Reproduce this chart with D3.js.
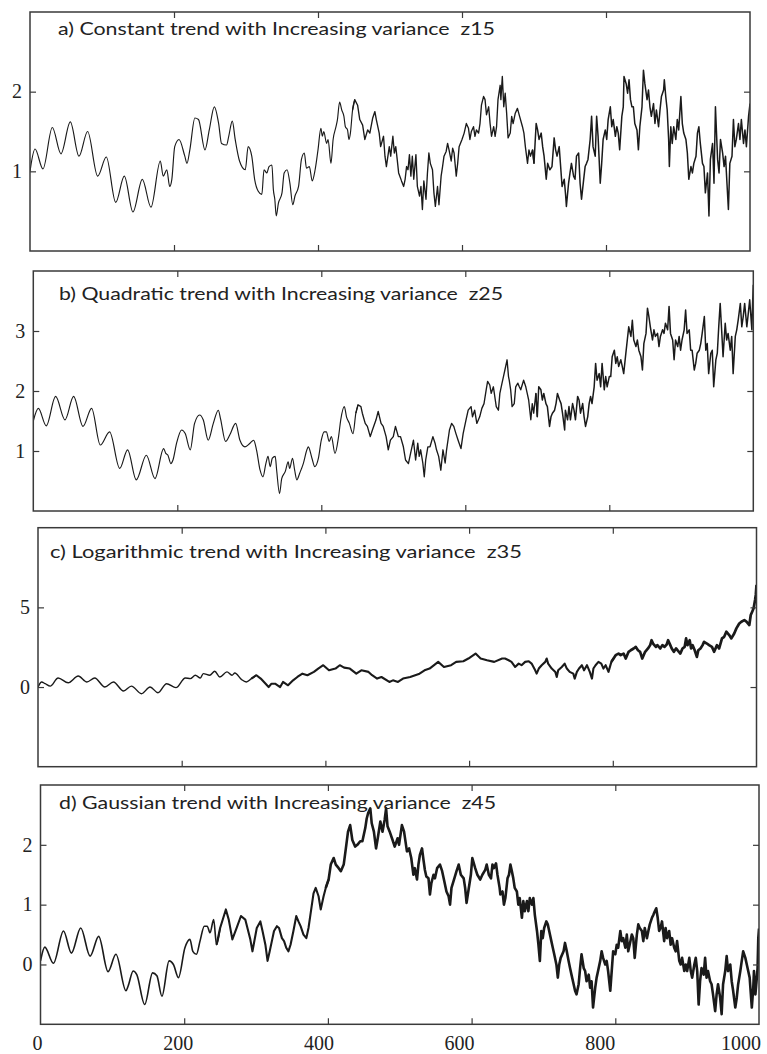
<!DOCTYPE html>
<html>
<head>
<meta charset="utf-8">
<script src="https://cdn.jsdelivr.net/npm/d3@7"></script>
<style>
  body { margin: 0; background: #fff; }
  svg { display: block; }
</style>
</head>
<body>
<svg id="chart" width="767" height="1054"></svg>
<script>
// Panel titles
const titles = [
  "a) Constant trend with Increasing variance  z15",
  "b) Quadratic trend with Increasing variance  z25",
  "c) Logarithmic trend with Increasing variance  z35",
  "d) Gaussian trend with Increasing variance  z45"
];

// Tick values
const xTicks = [0, 200, 400, 600, 800, 1000];
const yTicksA = [1, 2];
const yTicksB = [1, 2, 3];
const yTicksC = [0, 5];
const yTicksD = [0, 1, 2];

// Series: [sample index, value]
const seriesA = [
[0,1.00],[1,1.06],[7,1.28],[18,1.03],[31,1.55],[43,1.22],[56,1.62],[68,1.19],[80,1.50],[94,0.94],[106,1.18],[119,0.61],[131,0.94],[143,0.49],[156,0.90],[168,0.55],[181,1.13],[185,0.94],[190,1.02],[194,0.81],[197,0.90],[201,1.31],[207,1.40],[215,1.19],[218,1.10],[222,1.27],[229,1.67],[234,1.65],[243,1.27],[249,1.52],[256,1.81],[262,1.60],[266,1.35],[273,1.33],[276,1.44],[281,1.63],[285,1.40],[291,1.13],[299,1.02],[303,1.31],[308,1.19],[312,0.90],[317,0.75],
[322,0.71],[325,1.02],[329,0.98],[332,1.06],[336,1.08],[338,0.77],[340,0.65],[342,0.44],[345,0.60],[350,0.73],[353,0.98],[357,1.02],[361,0.85],[365,0.58],[368,0.69],[373,0.81],[377,1.15],[381,1.23],[384,1.04],[388,1.06],[392,0.88],[396,1.02],[400,1.27],[404,1.54],[406,1.44],[408,1.50],[412,1.35],[414,1.40],[418,1.10],[421,1.40],[425,1.56],[427,1.65],[430,1.87],[433,1.77],[436,1.69],[438,1.56],[441,1.52],[443,1.40],[445,1.48],[448,1.77],[451,1.90],[455,1.83],[458,1.65],[462,1.58],[465,1.40],[469,1.52],[472,1.48],[476,1.67],[479,1.75],[481,1.65],[485,1.48],[487,1.31],[491,1.44],[493,1.19],[495,1.06],[499,1.31],[501,1.19],[504,1.44],[506,1.23],[508,1.31],[510,1.15],[512,0.98],[516,0.88],[519,0.81],[521,0.90],[523,1.06],[525,1.02],[527,1.21],[529,0.94],[531,1.19],[533,0.90],[536,1.21],[538,0.81],[541,0.69],[543,0.81],[545,0.52],[547,0.88],[550,0.65],[552,0.98],[554,1.23],[556,1.10],[559,1.02],[561,0.73],[563,0.56],[566,0.81],[568,0.58],[571,0.94],[573,1.06],[575,1.19],[578,1.25],[580,1.35],[582,1.27],[585,1.13],[587,1.29],[589,1.23],[592,0.94],[594,1.10],[596,1.31],[600,1.40],[603,1.48],[606,1.60],[609,1.54],[611,1.40],[613,1.50],[616,1.56],[618,1.44],[620,1.52],[623,1.48],[625,1.60],[627,1.83],[630,1.94],[632,1.90],[634,1.71],[637,1.81],[639,1.60],[641,1.44],[644,1.56],[646,1.44],[648,1.56],[650,1.90],[653,2.08],[654,1.90],[656,2.19],[658,1.81],
[660,1.98],[662,1.73],[664,1.42],[667,1.48],[669,1.69],[671,1.60],[674,1.73],[677,1.79],[680,1.69],[684,1.56],[686,1.48],[688,1.31],[691,1.10],[693,1.27],[695,1.19],[698,1.27],[700,1.10],[703,1.60],[705,1.52],[707,1.40],[710,1.48],[712,1.31],[714,1.19],[717,0.90],[719,1.10],[722,1.02],[725,1.06],[728,1.42],[730,1.27],[732,1.19],[735,1.31],[737,1.06],[739,0.81],[742,0.90],[744,0.69],[745,0.56],[748,0.85],[750,0.98],[752,1.10],[755,0.94],[757,0.90],[759,1.19],[762,1.23],[764,0.85],[766,0.65],[769,0.90],[771,1.06],[773,1.10],[775,1.15],[778,1.40],[780,1.69],[782,1.31],[785,1.19],[787,1.69],[789,1.44],[792,0.85],[794,1.10],[796,1.40],[799,1.52],[801,1.40],[803,1.65],[806,1.81],[808,1.56],[810,1.65],[813,1.44],[815,1.56],[817,1.48],[819,1.27],[822,1.69],[824,1.81],[825,2.19],[828,2.10],[830,1.98],[832,2.15],[834,1.90],[836,1.81],[838,1.81],[840,1.60],[843,1.52],[845,1.27],[847,1.56],[850,1.81],[852,2.27],[854,2.10],[857,1.90],[859,2.02],[861,1.81],[863,1.69],[866,1.85],[868,1.60],[870,1.77],[873,1.56],[875,1.77],[877,1.94],[880,2.02],[881,2.15],[883,1.94],[885,1.77],[887,1.40],[888,1.06],[890,1.56],[892,1.35],[894,1.56],[897,1.40],[899,1.65],[901,1.52],[904,1.94],[906,1.60],[908,1.48],[911,1.40],[913,1.23],[915,0.90],[918,1.06],[920,0.98],[922,1.10],[925,1.19],[927,1.48],[929,1.56],[931,1.35],[934,1.10],[936,1.06],[938,0.73],[941,0.98],[943,0.44],[945,1.15],[948,1.35],[950,0.85],[952,1.81],[955,1.15],[957,0.98],[959,1.40],[962,1.23],[964,1.06],[966,1.19],[968,0.85],[970,0.52],[972,1.10],[975,1.19],[977,1.65],[979,1.31],[981,1.40],[984,1.60],[986,1.40],[988,1.65],[991,1.35],[993,1.52],[995,1.31],[998,1.69],[1000,1.85]
];

const seriesB = [
[0,1.50],[7,1.71],[18,1.42],[31,1.91],[44,1.52],[56,1.91],[69,1.41],[81,1.71],[93,1.10],[106,1.32],[120,0.71],[131,1.02],[143,0.52],[157,0.93],[169,0.54],[181,1.04],[184,0.96],[187,0.93],[191,0.79],[194,0.85],[199,1.13],[206,1.35],[211,1.29],[218,1.02],[224,1.46],[231,1.60],[236,1.52],[243,1.18],[250,1.46],[257,1.68],[260,1.54],[267,1.16],[273,1.27],[281,1.46],[287,1.18],[294,1.07],[301,1.13],
[306,1.18],[310,1.02],[315,0.68],[319,0.57],[323,0.79],[326,0.91],[329,0.74],[332,0.88],[336,0.91],[338,0.68],[342,0.29],[345,0.54],[350,0.66],[354,0.82],[356,0.71],[360,0.88],[363,0.68],[366,0.52],[370,0.63],[375,0.79],[380,1.02],[382,1.07],[387,0.88],[391,0.74],[396,0.88],[400,1.18],[404,1.32],[407,1.32],[411,1.16],[414,1.24],[419,0.96],[424,1.24],[427,1.52],[432,1.74],[435,1.57],[439,1.46],[444,1.29],[448,1.63],[451,1.77],[455,1.74],[457,1.63],[461,1.46],[464,1.41],[468,1.24],[471,1.35],[476,1.52],[479,1.66],[483,1.46],[486,1.41],[490,1.24],[493,1.02],[496,1.18],[500,1.24],[503,1.41],[507,1.24],[510,1.24],[514,1.07],[517,0.85],[521,0.79],[524,0.96],[528,1.18],[531,0.85],[534,1.13],[536,0.91],[538,1.02],[541,0.80],[543,0.57],[545,0.85],[548,1.07],[551,1.07],[555,1.24],[558,1.13],[560,1.02],[563,0.91],[566,0.68],[569,1.02],[572,0.80],[574,1.02],[578,1.35],[581,1.46],[584,1.41],[587,1.29],[590,1.18],[594,1.04],[597,1.29],[601,1.52],[604,1.68],[608,1.74],[610,1.57],[613,1.68],[616,1.46],[620,1.57],[623,1.71],[626,1.79],[629,2.02],[631,2.16],[634,2.10],[636,1.96],[639,2.07],[643,1.74],[646,1.68],[648,1.96],[651,2.13],[653,2.24],[655,2.35],[658,2.52],[660,2.24],
[661,2.18],[663,2.02],[665,1.74],[668,1.79],[670,2.07],[673,2.13],[675,2.07],[677,2.02],[681,2.18],[684,2.07],[686,1.96],[688,1.85],[691,1.52],[693,1.79],[695,1.63],[698,1.96],[700,1.57],[702,2.07],[705,2.02],[707,1.85],[709,1.96],[712,1.79],[714,1.74],[717,1.41],[719,1.57],[721,1.63],[724,1.68],[726,1.79],[728,1.96],[731,1.85],[733,1.79],[735,1.63],[738,1.35],[739,1.68],[742,1.52],[744,1.74],[746,1.52],[749,1.79],[751,1.68],[753,1.52],[756,1.91],[758,1.85],[760,1.63],[763,1.79],[765,1.57],[767,1.41],[770,1.57],[772,1.79],[774,1.91],[776,1.79],[779,2.07],[781,2.46],[783,2.18],[786,2.29],[788,2.07],[790,2.46],[793,2.02],[795,2.24],[797,2.07],[800,2.24],[802,2.24],[804,2.57],[807,2.68],[809,2.46],[811,2.57],[813,2.41],[816,2.52],[818,2.41],[820,2.29],[823,2.63],[825,2.85],[827,3.07],[830,2.91],[832,3.18],[834,2.85],[837,2.74],[839,2.85],[841,2.68],[844,2.57],[846,2.35],[848,2.79],[851,2.96],[853,3.38],[855,3.24],[857,3.07],[860,2.85],[862,3.02],[864,2.91],[867,2.96],[869,2.74],[871,2.91],[874,3.02],[876,2.96],[878,3.13],[881,3.02],[883,3.41],[885,2.96],[888,2.85],[890,2.52],[892,2.85],[895,2.74],[897,2.91],[899,2.68],[901,2.85],[904,3.02],[906,3.35],[908,2.96],[911,3.02],[913,2.68],[915,2.68],[918,2.35],[920,2.46],[922,2.63],[925,2.68],[927,2.79],[929,2.96],[932,3.24],[934,2.68],[936,2.79],[938,2.29],[941,2.63],[943,2.68],[945,2.07],[948,2.52],[950,2.63],[952,3.07],[954,3.46],[956,3.02],[958,2.57],[961,3.13],[963,2.85],[965,2.96],[968,2.68],[970,2.91],[972,2.29],[975,2.91],[977,3.02],[979,3.18],[982,3.46],[984,3.07],[986,3.24],[988,3.46],[991,3.07],[993,3.29],[995,3.52],[998,3.02],[999,3.46],[1000,3.77]
];

const seriesC = [
[0,0.00],[5,0.32],[10,0.21],[17,0.06],[28,0.57],[42,0.27],[56,0.69],[68,0.32],[79,0.57],[93,0.00],[105,0.32],[119,-0.25],[130,0.06],[144,-0.42],[156,0.00],[167,-0.36],[179,0.21],[192,-0.04],[205,0.57],[212,0.53],[219,0.74],[226,0.57],[230,0.84],[239,0.74],[246,0.99],[253,0.63],[263,0.95],[270,0.74],[274,0.88],[283,0.48],[290,0.32],[297,0.53],[304,0.74],[310,0.53],[321,0.00],[325,0.21],[330,0.21],[337,0.00],[341,0.32],[348,0.11],[355,0.42],[361,0.63],[368,0.84],[375,0.74],[384,0.95],[390,1.16],[397,1.37],[405,1.05],[414,1.16],[420,1.37],[426,1.22],[434,1.16],[443,0.84],[450,1.05],[460,0.95],[465,0.74],[472,0.53],[478,0.63],[489,0.32],[494,0.42],[501,0.32],[508,0.53],[518,0.63],[525,0.74],[531,0.84],[538,1.05],[545,1.16],[557,1.58],[565,1.26],[575,1.37],[582,1.58],[592,1.62],[599,1.79],[609,2.10],[616,1.79],[625,1.68],[635,1.58],[646,1.79],[650,1.79],[655,1.68],[659,1.58],[664,1.26],[669,1.47],[673,1.37],[678,1.58],[683,1.62],[687,1.47],[692,1.05],[694,0.84],[697,1.16],[701,1.37],[706,1.58],[708,1.79],[710,1.47],[715,1.16],[720,0.95],[722,0.63],[724,1.05],[729,1.26],[733,1.47],[736,1.16],[740,0.95],[745,0.84],[747,0.53],[750,0.95],[753,1.16],[757,1.37],[760,1.05],[764,1.37],[768,0.95],[771,0.53],[773,1.16],[776,1.37],[780,1.58],[784,1.47],[787,1.16],[790,1.37],[794,0.95],[798,1.58],[801,1.79],[804,2.00],[808,2.10],[811,2.00],[815,2.10],[818,1.79],[822,2.21],[825,2.31],[829,2.42],[832,2.52],[835,2.31],[838,2.21],[841,1.79],[845,2.21],[849,2.42],[852,2.63],[854,2.94],[856,2.73],[860,2.52],[862,2.63],[866,2.42],[869,2.63],[872,2.52],[875,2.67],[877,2.94],[880,2.63],[882,2.42],[885,2.21],[888,2.42],[890,2.31],[894,2.10],[897,2.42],[900,2.52],[902,3.05],[904,2.63],[907,2.94],[909,2.42],[911,2.63],[914,2.31],[917,1.89],[919,2.31],[922,2.42],[925,2.63],[927,2.84],[931,2.73],[934,2.63],[938,2.52],[941,2.21],[945,2.63],[948,2.42],[952,3.05],[955,3.15],[958,3.47],[962,3.26],[965,3.05],[969,3.36],[972,3.68],[976,3.99],[979,4.10],[983,4.20],[986,4.10],[990,3.89],[992,4.52],[994,4.73],[996,4.94],[998,5.46],[999,5.78],[1000,6.41]
];

const seriesD = [
[0,0.06],[6,0.29],[18,0.02],[32,0.56],[43,0.19],[56,0.61],[69,0.14],[81,0.47],[94,-0.12],[105,0.17],[119,-0.44],[122,-0.36],[129,-0.11],[134,-0.17],[145,-0.67],[156,-0.14],[162,-0.19],[169,-0.53],[179,0.06],[185,0.00],[192,-0.22],[201,0.28],[208,0.42],[212,0.22],[217,0.17],[222,0.39],[228,0.64],[232,0.64],[236,0.53],[241,0.75],[245,0.33],[250,0.61],[258,0.92],[262,0.75],[267,0.42],[273,0.61],[279,0.81],[285,0.75],[292,0.42],[295,0.22],[301,0.61],[306,0.72],[309,0.56],[313,0.33],[316,0.06],[319,0.22],[322,0.39],[325,0.56],[329,0.64],[332,0.61],[336,0.44],[339,0.39],[342,0.28],[345,0.22],[348,0.33],[352,0.56],[356,0.81],[359,0.72],[362,0.64],[366,0.50],[370,0.44],[373,0.61],[376,0.86],[380,1.19],[383,1.28],[387,1.14],[390,0.92],[394,1.14],[397,1.28],[401,1.42],[404,1.67],[408,1.78],[411,1.67],[415,1.61],[418,1.56],[422,1.67],[425,1.94],[428,2.22],[431,2.33],[434,2.08],[438,1.97],[441,2.00],[445,2.06],[448,2.06],[452,2.28],[454,2.44],[456,2.53],[459,2.61],[461,2.36],[464,2.22],[467,1.94],[469,2.08],[473,2.39],[476,2.22],[479,2.42],[481,2.61],[483,2.31],[486,2.22],[490,2.08],[493,1.97],[497,2.11],[499,2.00],[503,2.33],[506,2.22],[510,1.89],[513,1.94],[516,1.78],[519,1.50],[521,1.61],[524,1.42],[526,1.67],[528,1.83],[531,1.94],[533,1.75],[535,1.58],[537,1.47],[540,1.44],[542,1.17],[544,1.36],[547,1.50],[549,1.44],[552,1.61],[556,1.67],[559,1.56],[562,1.39],[565,1.22],[568,1.14],[570,1.00],[572,1.28],[576,1.44],[579,1.56],[582,1.67],[585,1.50],[589,1.44],[591,1.28],[593,1.03],[595,1.19],[599,1.50],[601,1.78],[605,1.61],[608,1.50],[612,1.42],[615,1.50],[619,1.58],[621,1.67],[624,1.50],[627,1.44],[629,1.67],[631,1.61],[634,1.69],[636,1.50],[639,1.28],[640,1.17],[643,1.22],[645,1.00],[647,1.11],[650,1.44],[652,1.50],[654,1.67],[656,1.56],[658,1.44],[660,1.28],[663,1.22],[665,1.00],[667,1.11],[670,0.78],[672,1.06],[674,0.89],[677,1.06],[679,0.89],[681,1.11],[684,1.00],[686,1.11],[688,0.83],[691,0.56],[693,0.33],[695,0.06],[697,0.56],[699,0.44],[701,0.61],[704,0.72],[706,0.67],[708,0.56],[711,0.39],[713,0.28],[715,0.17],[718,0.00],[720,-0.22],[722,0.00],[724,0.11],[728,0.22],[730,0.36],[732,0.25],[735,0.06],[737,-0.06],[739,-0.17],[742,-0.33],[744,-0.44],[746,-0.50],[749,-0.33],[751,-0.06],[753,0.17],[756,-0.06],[758,-0.11],[760,-0.28],[763,-0.17],[765,-0.39],[767,-0.28],[769,-0.72],[772,-0.39],[774,-0.22],[776,-0.11],[779,0.06],[781,0.22],[783,0.11],[786,0.00],[788,0.06],[790,-0.11],[793,-0.44],[795,-0.11],[797,0.22],[800,0.17],[802,0.33],[804,0.28],[807,0.56],[809,0.39],[811,0.44],[814,0.28],[816,0.50],[818,0.22],[820,0.33],[823,0.50],[825,0.44],[827,0.11],[830,0.50],[832,0.67],[834,0.61],[837,0.56],[839,0.39],[841,0.61],[844,0.44],[846,0.56],[848,0.67],[851,0.78],[853,0.83],[855,0.89],[857,0.94],[859,0.78],[861,0.56],[863,0.61],[865,0.72],[868,0.39],[870,0.61],[872,0.44],[875,0.56],[877,0.33],[879,0.44],[882,0.28],[884,0.22],[886,0.39],[889,0.06],[891,0.00],[893,0.11],[896,-0.11],[898,0.00],[900,-0.11],[903,0.11],[905,-0.11],[907,-0.22],[910,0.00],[912,0.11],[914,-0.11],[916,-0.67],[918,-0.28],[920,-0.06],[923,-0.17],[925,0.11],[927,-0.22],[929,-0.11],[932,-0.28],[934,-0.33],[936,-0.50],[939,-0.78],[941,-0.50],[943,-0.33],[946,-0.56],[948,-0.83],[950,-0.33],[953,-0.11],[955,0.14],[957,-0.11],[960,0.00],[962,-0.28],[964,-0.44],[967,-0.72],[969,-0.56],[971,-0.33],[974,-0.11],[976,0.06],[978,0.22],[981,0.11],[983,0.00],[985,-0.11],[987,-0.22],[990,-0.72],[992,-0.39],[993,-0.11],[995,-0.50],[997,-0.22],[998,-0.06],[999,0.44],[1000,0.60]
];

// Frame geometry of each stacked panel; `weights` sets the stroke width from a given index on
const panels = [
  { title: titles[0], data: seriesA, yDomain: [0, 3],  yTicks: yTicksA, x0: 30,   x1: 750,   y0: 12,    y1: 251,   tx: 58, ty: 35,  tw: 437,
    weights: [[0, 1.15], [450, 1.35], [700, 1.5]] },
  { title: titles[1], data: seriesB, yDomain: [0, 4],  yTicks: yTicksB, x0: 33.3, x1: 753.3, y0: 271,   y1: 511,   tx: 59, ty: 300, tw: 444,
    weights: [[0, 1.15], [450, 1.35], [700, 1.5]] },
  { title: titles[2], data: seriesC, yDomain: [-5, 10], yTicks: yTicksC, x0: 38,   x1: 756.5, y0: 527.7, y1: 766.7, tx: 50, ty: 558, tw: 472,
    weights: [[0, 1.4], [300, 2.1], [800, 2.7]] },
  { title: titles[3], data: seriesD, yDomain: [-1, 3], yTicks: yTicksD, x0: 40.5, x1: 759,   y0: 785,   y1: 1024.3, tx: 59, ty: 809, tw: 437,
    weights: [[0, 1.6], [250, 2.1], [400, 2.6]] }
];

const svg = d3.select("#chart");
const tickLen = 6;
const frameColor = "#3a3a3a";

panels.forEach((p, i) => {
  const x = d3.scaleLinear().domain([0, 1000]).range([p.x0, p.x1]);
  const y = d3.scaleLinear().domain(p.yDomain).range([p.y1, p.y0]);
  const g = svg.append("g").attr("class", "panel");

  // clip the series to the frame
  const clipId = "clip" + i;
  g.append("clipPath").attr("id", clipId)
    .append("rect").attr("x", p.x0).attr("y", p.y0)
    .attr("width", p.x1 - p.x0).attr("height", p.y1 - p.y0);

  // series, drawn in pieces: the calm opening is smoothed, noisier stretches are
  // drawn straight and heavier
  const smooth = d3.line().curve(d3.curveMonotoneX).x(d => x(d[0])).y(d => y(d[1]));
  const sharp = d3.line().x(d => x(d[0])).y(d => y(d[1]));
  const sg = g.append("g").attr("clip-path", `url(#${clipId})`);
  p.weights.forEach(([from, w], k) => {
    const to = k + 1 < p.weights.length ? p.weights[k + 1][0] : Infinity;
    const lo = d3.bisector(d => d[0]).left(p.data, from);
    const hi = d3.bisector(d => d[0]).left(p.data, to);
    const piece = p.data.slice(Math.max(0, lo - 1), Math.min(p.data.length, hi + 1));
    sg.append("path")
      .datum(piece)
      .attr("d", k === 0 ? smooth : sharp)
      .attr("fill", "none")
      .attr("stroke", "#1a1a1a")
      .attr("stroke-width", w)
      .attr("stroke-linejoin", "round");
  });

  // axes with inward ticks on all four sides
  const inner = [200, 400, 600, 800];
  g.append("g").attr("transform", `translate(0,${p.y1})`)
    .call(d3.axisTop(x).tickValues(inner).tickSize(tickLen).tickFormat(""))
    .call(a => a.select(".domain").remove());
  g.append("g").attr("transform", `translate(0,${p.y0})`)
    .call(d3.axisBottom(x).tickValues(inner).tickSize(tickLen).tickFormat(""))
    .call(a => a.select(".domain").remove());
  g.append("g").attr("transform", `translate(${p.x0},0)`)
    .call(d3.axisRight(y).tickValues(p.yTicks).tickSize(tickLen).tickFormat(""))
    .call(a => a.select(".domain").remove());
  g.append("g").attr("transform", `translate(${p.x1},0)`)
    .call(d3.axisLeft(y).tickValues(p.yTicks).tickSize(tickLen).tickFormat(""))
    .call(a => a.select(".domain").remove());
  g.selectAll(".tick line").attr("stroke", frameColor).attr("stroke-width", 1.2);

  // y tick labels
  g.selectAll("text.ylab").data(p.yTicks).join("text")
    .attr("class", "ylab")
    .attr("x", p.x0 - 8)
    .attr("y", d => y(d))
    .attr("dy", "0.34em")
    .attr("text-anchor", "end")
    .attr("font-family", "Liberation Serif, Times New Roman, serif")
    .attr("font-size", 20)
    .attr("fill", "#222")
    .text(d => d);

  // frame
  g.append("rect")
    .attr("x", p.x0).attr("y", p.y0)
    .attr("width", p.x1 - p.x0).attr("height", p.y1 - p.y0)
    .attr("fill", "none").attr("stroke", frameColor).attr("stroke-width", 1.5);

  // title
  g.append("text")
    .attr("x", p.tx).attr("y", p.ty)
    .attr("font-family", "Lato, Open Sans, sans-serif")
    .attr("font-size", 18)
    .attr("fill", "#222")
    .attr("textLength", p.tw)
    .attr("lengthAdjust", "spacingAndGlyphs")
    .style("white-space", "pre")
    .text(p.title);

  // x tick labels under the last panel (label row is slightly narrower than the frame)
  if (i === panels.length - 1) {
    const xl = d3.scaleLinear().domain([0, 1000]).range([37.5, 741]);
    g.selectAll("text.xlab").data(xTicks).join("text")
      .attr("class", "xlab")
      .attr("x", d => xl(d))
      .attr("y", 1050)
      .attr("text-anchor", "middle")
      .attr("font-family", "Liberation Serif, Times New Roman, serif")
      .attr("font-size", 20)
      .attr("fill", "#222")
      .text(d => d);
  }
});
</script>
</body>
</html>
